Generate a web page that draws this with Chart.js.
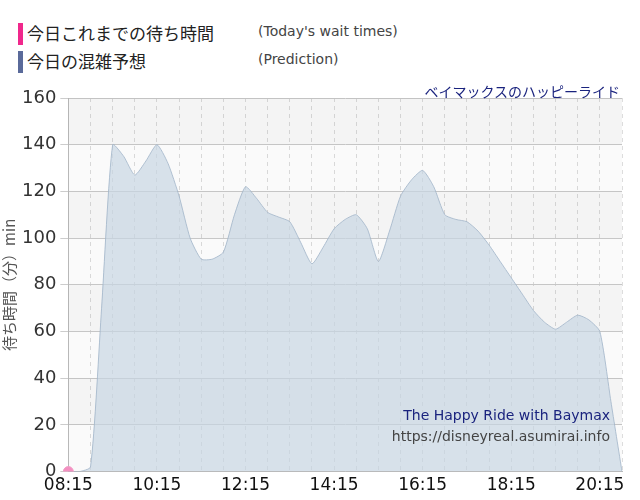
<!DOCTYPE html>
<html><head><meta charset="utf-8">
<script src="https://cdn.jsdelivr.net/npm/chart.js@4"></script>
<style>
body{margin:0;width:640px;height:500px;background:#fff;font-family:"Noto Sans CJK JP","Noto Sans",sans-serif;position:relative;overflow:hidden}
.lg{position:absolute;left:18px;font-size:17px;color:#222}
.lg span.b{display:inline-block;width:5px;height:22px;vertical-align:-5px;margin-right:4px}
.lg i{font-style:normal;font-size:14px;color:#444;position:absolute;left:240px;top:3px;white-space:nowrap;font-family:"DejaVu Sans",sans-serif}
#wrap{position:absolute;left:0;top:70px;width:640px;height:430px}
.t{position:absolute;white-space:nowrap;font-family:"DejaVu Sans",sans-serif;z-index:2}
</style></head><body>
<div class="lg" style="top:20px"><span class="b" style="background:#f0288c"></span>今日これまでの待ち時間<i>(Today's wait times)</i></div>
<div class="lg" style="top:48px"><span class="b" style="background:#5a6a9a"></span>今日の混雑予想<i>(Prediction)</i></div>
<div class="t" style="right:20px;top:81px;font-size:14px;color:#1a237e;font-family:'Noto Sans CJK JP'">ベイマックスのハッピーライド</div>
<div id="wrap"><canvas id="c" width="640" height="430"></canvas></div>
<div class="t" style="right:30px;top:407px;font-size:14px;color:#1a237e">The Happy Ride with Baymax</div>
<div class="t" style="right:30px;top:428px;font-size:14px;color:#444">https://disneyreal.asumirai.info</div>
<script>
const times = [];
for (let m = 8*60+15; m <= 20*60+45; m += 15) {
  times.push(String(Math.floor(m/60)).padStart(2,'0') + ':' + String(m%60).padStart(2,'0'));
}
const prediction = [0,0,2,70,140,135,127,133,140,132,118,100,91,91,94,110,122,117,111,109,107,98,89,96,104,108,110,104,90,103,118,125,129,122,110,108,107,103,97,90,83,76,69,64,61,64,67,65,60,30,0];
const actual = [0];
const yTicks = [0,20,40,60,80,100,120,140,160];

const bands = {
  id: 'bands',
  beforeDatasetsDraw(chart) {
    const {ctx, chartArea: a, scales: {y}} = chart;
    ctx.save();
    ctx.fillStyle = 'rgba(0,0,0,0.045)';
    for (let v = 0; v < 160; v += 40) {
      const t = y.getPixelForValue(v + 40), b = y.getPixelForValue(v + 20);
      ctx.fillRect(a.left, t, a.right - a.left, b - t);
    }
    ctx.fillStyle = 'rgba(0,0,0,0.02)';
    for (let v = 0; v < 160; v += 40) {
      const t = y.getPixelForValue(v + 20), b = y.getPixelForValue(v);
      ctx.fillRect(a.left, t, a.right - a.left, b - t);
    }
    ctx.restore();
  }
};

new Chart(document.getElementById('c'), {
  type: 'line',
  data: {
    labels: times,
    datasets: [{
      data: actual, borderColor: '#f0288c', backgroundColor: '#f48fc0',
      pointRadius: 5, pointBackgroundColor: '#f48fc0', pointBorderColor: '#f0a0c8'
    }, {
      data: prediction, borderColor: 'rgba(160,180,200,0.8)', borderWidth: 1,
      backgroundColor: 'rgba(200,214,226,0.7)', fill: true, pointRadius: 0, tension: 0.2
    }]
  },
  options: {
    responsive: false, animation: false,
    layout: {padding: {left: 0, right: 18, top: 28, bottom: 0}},
    plugins: {legend: {display: false}, tooltip: {enabled: false}},
    scales: {
      x: {
        offset: false,
        grid: {color: '#ddd', drawTicks: false},
        border: {color: '#bbb', dash: [4, 4]},
        ticks: {
          autoSkip: false, maxRotation: 0, color: '#111', font: {size: 17, family: 'DejaVu Sans'}, padding: 4,
          callback: (v, i) => i % 8 === 0 ? times[i] : (i % 2 === 0 ? '' : null)
        }
      },
      y: {
        min: 0, max: 160,
        afterBuildTicks: s => { s.ticks = yTicks.map(v => ({value: v})); },
        grid: {color: '#ccc', tickLength: 8},
        border: {color: '#bbb'},
        ticks: {color: '#333', font: {size: 18, family: 'DejaVu Sans'}, padding: 4},
        title: {display: true, text: '待ち時間（分）min', color: '#555', font: {size: 15, family: 'Noto Sans CJK JP'}, padding: 0}
      }
    }
  },
  plugins: [bands]
});
</script>
</body></html>
